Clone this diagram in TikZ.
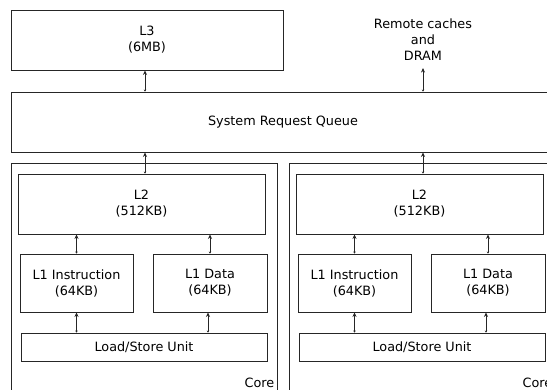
\documentclass[tikz,border=0pt]{standalone}
\usepackage{fontspec}
\setmainfont{DejaVu Sans}
\usetikzlibrary{arrows.meta,calc}
\begin{document}
\begin{tikzpicture}[x=1pt,y=-1pt,
  box/.style={draw=black!85,line width=0.9pt,inner sep=0pt,align=center,
    font=\fontsize{12.8}{16}\selectfont},
  lbl/.style={inner sep=0pt,align=center,font=\fontsize{12.8}{16}\selectfont},
  arr/.style={draw=black!85,line width=0.8pt,
    {Stealth[length=2pt,width=2.5pt]}-{Stealth[length=4.5pt,width=4pt]}}]
\useasboundingbox (0,0) rectangle (547,390);
\clip (0,0) rectangle (547,390);
\fill[white] (0,0) rectangle (547,390);
\node[box,minimum width=272,minimum height=60] (l3) at (147,40) {L3\\(6MB)};
\node[box,minimum width=544,minimum height=60] (srq) at (283,122) {System Request Queue};
\node[lbl] (rem) at (423,40) {Remote caches\\and\\DRAM};
\draw[arr] ([xshift=-2]srq.north -| l3.south) -- ([xshift=-2]l3.south);
\draw[arr] (srq.north -| rem.south) -- ([yshift=-7]rem.south);
\foreach \dx/\n in {0/a,278/b}{
  \node[box,minimum width=266,minimum height=237] (core\n) at (144+\dx,281.5) {};
  \node[lbl,anchor=east] (cl\n) at ($(core\n.south east)+(-3,-18)$) {Core};
  \node[box,minimum width=247,minimum height=60] (l2\n) at (141.5+\dx,204) {L2\\(512KB)};
  \node[box,minimum width=113,minimum height=58] (l1i\n) at (76.5+\dx,283) {L1 Instruction\\(64KB)};
  \node[box,minimum width=114,minimum height=58] (l1d\n) at (210+\dx,283) {L1 Data\\(64KB)};
  \node[box,minimum width=246,minimum height=28] (lsu\n) at (144+\dx,347) {Load/Store Unit};
  \draw[arr] ([xshift=3.5]l2\n.north) -- ([xshift=3.5]l2\n.north |- srq.south);
  \draw[arr] (l1i\n.north) -- (l1i\n.north |- l2\n.south);
  \draw[arr] (l1d\n.north) -- (l1d\n.north |- l2\n.south);
  \draw[arr] (lsu\n.north -| l1i\n.south) -- (l1i\n.south);
  \draw[arr] ([xshift=-2]lsu\n.north -| l1d\n.south) -- ([xshift=-2]l1d\n.south);
}
\end{tikzpicture}
\end{document}
